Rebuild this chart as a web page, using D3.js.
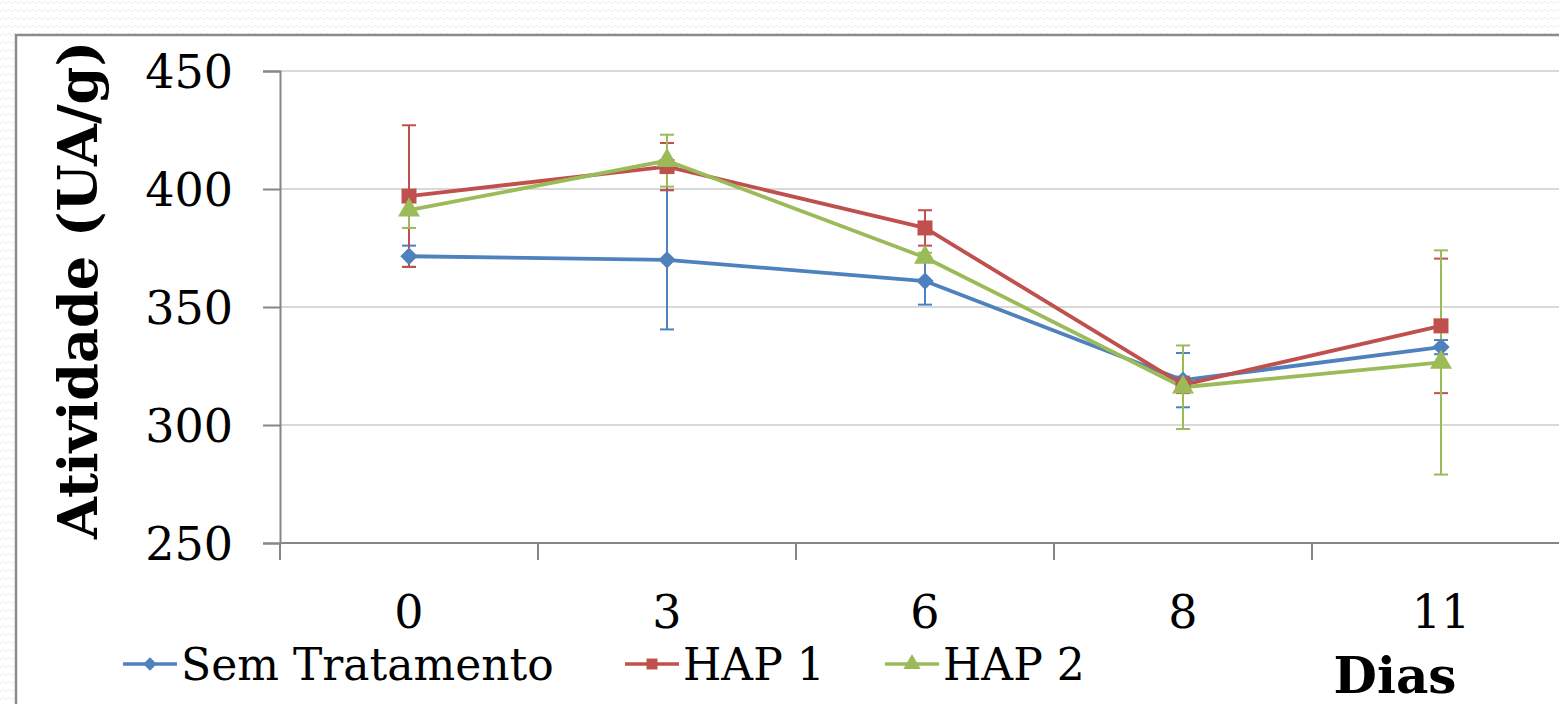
<!DOCTYPE html>
<html><head><meta charset="utf-8">
<script src="https://cdn.jsdelivr.net/npm/d3@7"></script>
<style>html,body{margin:0;padding:0;background:#fff;overflow:hidden}</style>
</head><body>
<svg id="chart" width="1559" height="704"></svg>
<script>
const categories = ["0", "3", "6", "8", "11"];
const seriesNames = ["Sem Tratamento", "HAP 1", "HAP 2"];
const semTratamento = [371.5, 370, 361, 319, 333];
const semTratamentoErr = [4.5, 29.5, 10, 11.5, 3];
const hap1 = [397, 409.5, 383.5, 317, 342];
const hap1Err = [30, 10, 7.5, 3.5, 28.5];
const hap2 = [391, 412, 371, 316, 326.5];
const hap2Err = [7.5, 11, 2, 17.7, 47.5];
const yTicks = [250, 300, 350, 400, 450];
const colors = ["#4F81BD", "#C0504D", "#9BBB59"];

const series = [
  {name: seriesNames[0], values: semTratamento, err: semTratamentoErr},
  {name: seriesNames[1], values: hap1, err: hap1Err},
  {name: seriesNames[2], values: hap2, err: hap2Err}
];

const svg = d3.select("#chart");
const W = 1559, H = 704;
const font = "'DejaVu Serif', 'Liberation Serif', serif";

// marker generators: diamond = rotated square
const markerDefs = [
  {type: d3.symbolSquare, size: 150, rot: 45},
  {type: d3.symbolSquare, size: 225, rot: 0},
  {type: d3.symbolTriangle, size: 210, rot: 0}
];
const legendMarkerDefs = [
  {type: d3.symbolSquare, size: 90, rot: 45},
  {type: d3.symbolSquare, size: 120, rot: 0},
  {type: d3.symbolTriangle, size: 130, rot: 0}
];

// background pattern outside frame
const defs = svg.append("defs");
const pat = defs.append("pattern").attr("id","zig").attr("width",12).attr("height",8).attr("patternUnits","userSpaceOnUse");
pat.append("path").attr("d","M0,4 L3,1 L6,4 L9,1 L12,4").attr("fill","none").attr("stroke","#ececec").attr("stroke-width",1);
svg.append("rect").attr("width",W).attr("height",H).attr("fill","#fff");
svg.append("rect").attr("width",W).attr("height",H).attr("fill","url(#zig)");
// frame
svg.append("rect").attr("x",16).attr("y",35).attr("width",W).attr("height",H).attr("fill","#fff")
  .attr("stroke","#8c8c8c").attr("stroke-width",2.5);

const x0 = 280, plotTop = 71, plotBottom = 543, bandW = 258;
const x = d3.scaleBand().domain(categories).range([x0, x0 + bandW*categories.length]).padding(0);
const y = d3.scaleLinear().domain([250, 450]).range([plotBottom, plotTop]);
const cx = c => x(c) + x.bandwidth()/2;

// gridlines
svg.append("g").selectAll("line").data(yTicks.filter(t => t > 250)).join("line")
  .attr("x1", x0).attr("x2", W).attr("y1", d => y(d)).attr("y2", d => y(d))
  .attr("stroke", "#d9d9d9").attr("stroke-width", 2);

// y axis
const yAxis = d3.axisLeft(y).tickValues(yTicks).tickSize(17).tickPadding(30).tickFormat(d3.format("d"));
const gy = svg.append("g").attr("transform", `translate(${x0},0)`).call(yAxis);
gy.select(".domain").attr("stroke","#868686").attr("stroke-width",2);
gy.selectAll(".tick line").attr("stroke","#868686").attr("stroke-width",2);
gy.selectAll(".tick text").attr("font-family",font).attr("font-size",46).attr("fill","#000").attr("dy","0.36em");

// x axis
const xAxis = d3.axisBottom(x).tickSize(0).tickPadding(0);
const gx = svg.append("g").attr("transform", `translate(0,${plotBottom})`).call(xAxis);
gx.select(".domain").attr("stroke","#868686").attr("stroke-width",2).attr("d", `M${x0},0H${W+20}`);
gx.selectAll(".tick text").attr("font-family",font).attr("font-size",46).attr("fill","#000").attr("y", 85).attr("dy",0);
// boundary ticks
svg.append("g").selectAll("line").data(categories).join("line")
  .attr("x1", d => x(d)).attr("x2", d => x(d)).attr("y1", plotBottom).attr("y2", plotBottom + 17)
  .attr("stroke","#868686").attr("stroke-width",2);

// error bars
const capW = 7;
series.forEach((s, i) => {
  const g = svg.append("g").attr("stroke", colors[i]).attr("stroke-width", 2);
  s.values.forEach((v, j) => {
    const c = cx(categories[j]);
    const hi = y(v + s.err[j]), lo = y(v - s.err[j]);
    g.append("line").attr("x1",c).attr("x2",c).attr("y1",hi).attr("y2",lo);
    g.append("line").attr("x1",c-capW).attr("x2",c+capW).attr("y1",hi).attr("y2",hi);
    g.append("line").attr("x1",c-capW).attr("x2",c+capW).attr("y1",lo).attr("y2",lo);
  });
});

// lines
const line = d3.line().x((d, j) => cx(categories[j])).y(d => y(d));
series.forEach((s, i) => {
  svg.append("path").datum(s.values).attr("d", line).attr("fill","none")
    .attr("stroke", colors[i]).attr("stroke-width", 3.8).attr("stroke-linejoin","round");
});
// markers
series.forEach((s, i) => {
  const m = markerDefs[i];
  svg.append("g").selectAll("path").data(s.values).join("path")
    .attr("d", d3.symbol().type(m.type).size(m.size))
    .attr("transform", (d, j) => `translate(${cx(categories[j])},${y(d)}) rotate(${m.rot})`)
    .attr("fill", colors[i]);
});

// y title
svg.append("text").attr("transform", "translate(97,290) rotate(-90)")
  .attr("text-anchor","middle").attr("font-family",font).attr("font-weight","bold")
  .attr("font-size",54).attr("fill","#000").text("Atividade (UA/g)");

// x title
svg.append("text").attr("x", 1395).attr("y", 693).attr("text-anchor","middle")
  .attr("font-family",font).attr("font-weight","bold").attr("font-size",50).attr("fill","#000").text("Dias");

// legend
const legendX = [123, 625, 885];
const legendY = 664;
series.forEach((s, i) => {
  const m = legendMarkerDefs[i];
  const g = svg.append("g").attr("transform", `translate(${legendX[i]},${legendY})`);
  g.append("line").attr("x1",0).attr("x2",54).attr("y1",0).attr("y2",0).attr("stroke",colors[i]).attr("stroke-width",3.5);
  g.append("path").attr("d", d3.symbol().type(m.type).size(m.size)).attr("transform",`translate(27,0) rotate(${m.rot})`).attr("fill",colors[i]);
  g.append("text").attr("x", 58).attr("y", 0).attr("dy","0.36em").attr("font-family",font).attr("font-size",44)
    .attr("fill","#000").text(s.name);
});
</script>
</body></html>
